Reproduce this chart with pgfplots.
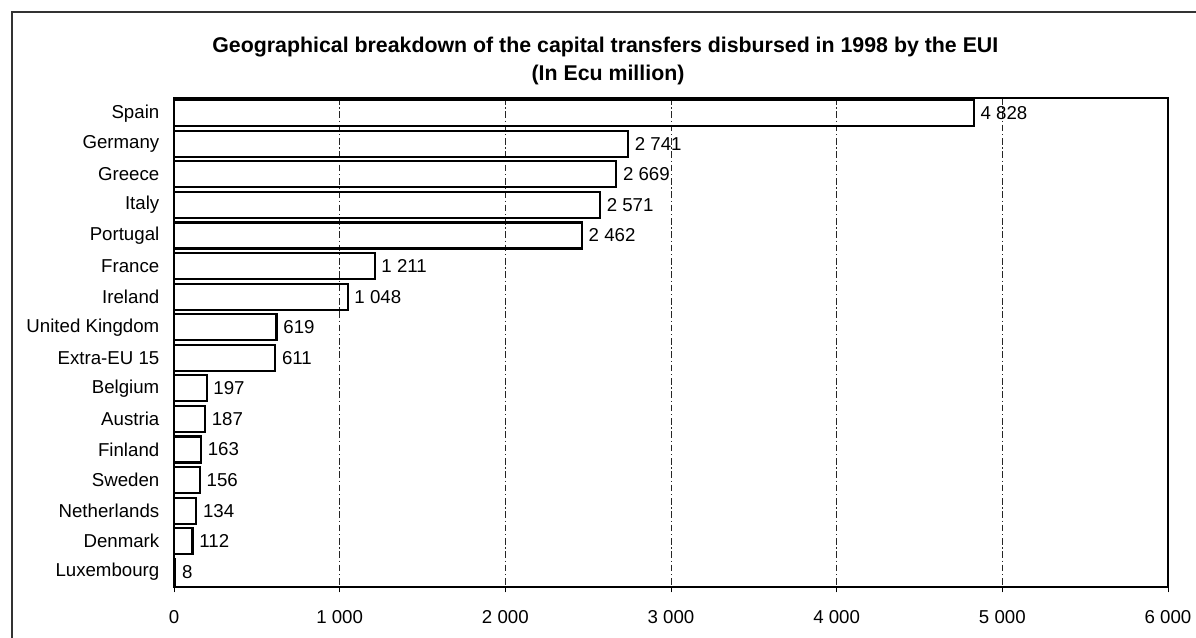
\documentclass[border=0pt]{standalone}
\usepackage{fontspec}
\setmainfont{Liberation Sans}
\usepackage{pgfplots}
\pgfplotsset{compat=1.18}

\begin{document}
\begin{tikzpicture}
  % page of 1196 x 637 px at 0.75pt per px
  \useasboundingbox (0,0) rectangle (897pt,-477.75pt);
  \draw[line width=0.8pt, black!80] (9pt,-600pt) -- (9pt,-9pt) -- (1000pt,-9pt);

  \node[anchor=base, font=\fontsize{16}{19}\selectfont\bfseries] at (454pt,-39.5pt)
    {Geographical breakdown of the capital transfers disbursed in 1998 by the EUI};
  \node[anchor=base, font=\fontsize{16}{19}\selectfont\bfseries] at (456pt,-60pt)
    {(In Ecu million)};

  \begin{axis}[
    at={(130.5pt,-440.25pt)}, anchor=south west,
    scale only axis,
    width=745.5pt, height=366.75pt,
    xbar,
    bar width=19.5pt,
    y dir=reverse,
    xmin=0, xmax=6000,
    ymin=-0.5, ymax=15.5,
    xtick={0,1000,2000,3000,4000,5000,6000},
    scaled x ticks=false,
    ytick={0,...,15},
    yticklabels={Spain, Germany, Greece, Italy, Portugal, France, Ireland,
      United Kingdom, Extra-EU 15, Belgium, Austria, Finland, Sweden,
      Netherlands, Denmark, Luxembourg},
    axis line style={line width=1.6pt},
    xmajorgrids,
    grid style={dash pattern=on 5pt off 2pt on 1pt off 2pt, line width=0.5pt, black!85},
    x tick style={black, line width=0.5pt},
    major tick length=4pt,
    tick align=outside,
    xtick pos=bottom,
    ytick style={draw=none},
    tick label style={font=\fontsize{14}{16}\selectfont},
    xticklabel style={yshift=-10pt},
    yticklabel style={xshift=-3.5pt},
    /pgf/number format/.cd, assume math mode=true, 1000 sep={\ },
    /pgfplots/.cd,
    nodes near coords,
    point meta=x,
    nodes near coords style={font=\fontsize{14}{16}\selectfont, xshift=1pt,
      /pgf/number format/.cd, assume math mode=true, fixed, precision=0, 1000 sep={\ }},
  ]
    \addplot[draw=black, fill=none, line width=1.6pt] coordinates {
      (4828,0) (2741,1) (2669,2) (2571,3) (2462,4) (1211,5) (1048,6)
      (619,7) (611,8) (197,9) (187,10) (163,11) (156,12) (134,13) (112,14) (8,15)
    };
  \end{axis}
\end{tikzpicture}
\end{document}
